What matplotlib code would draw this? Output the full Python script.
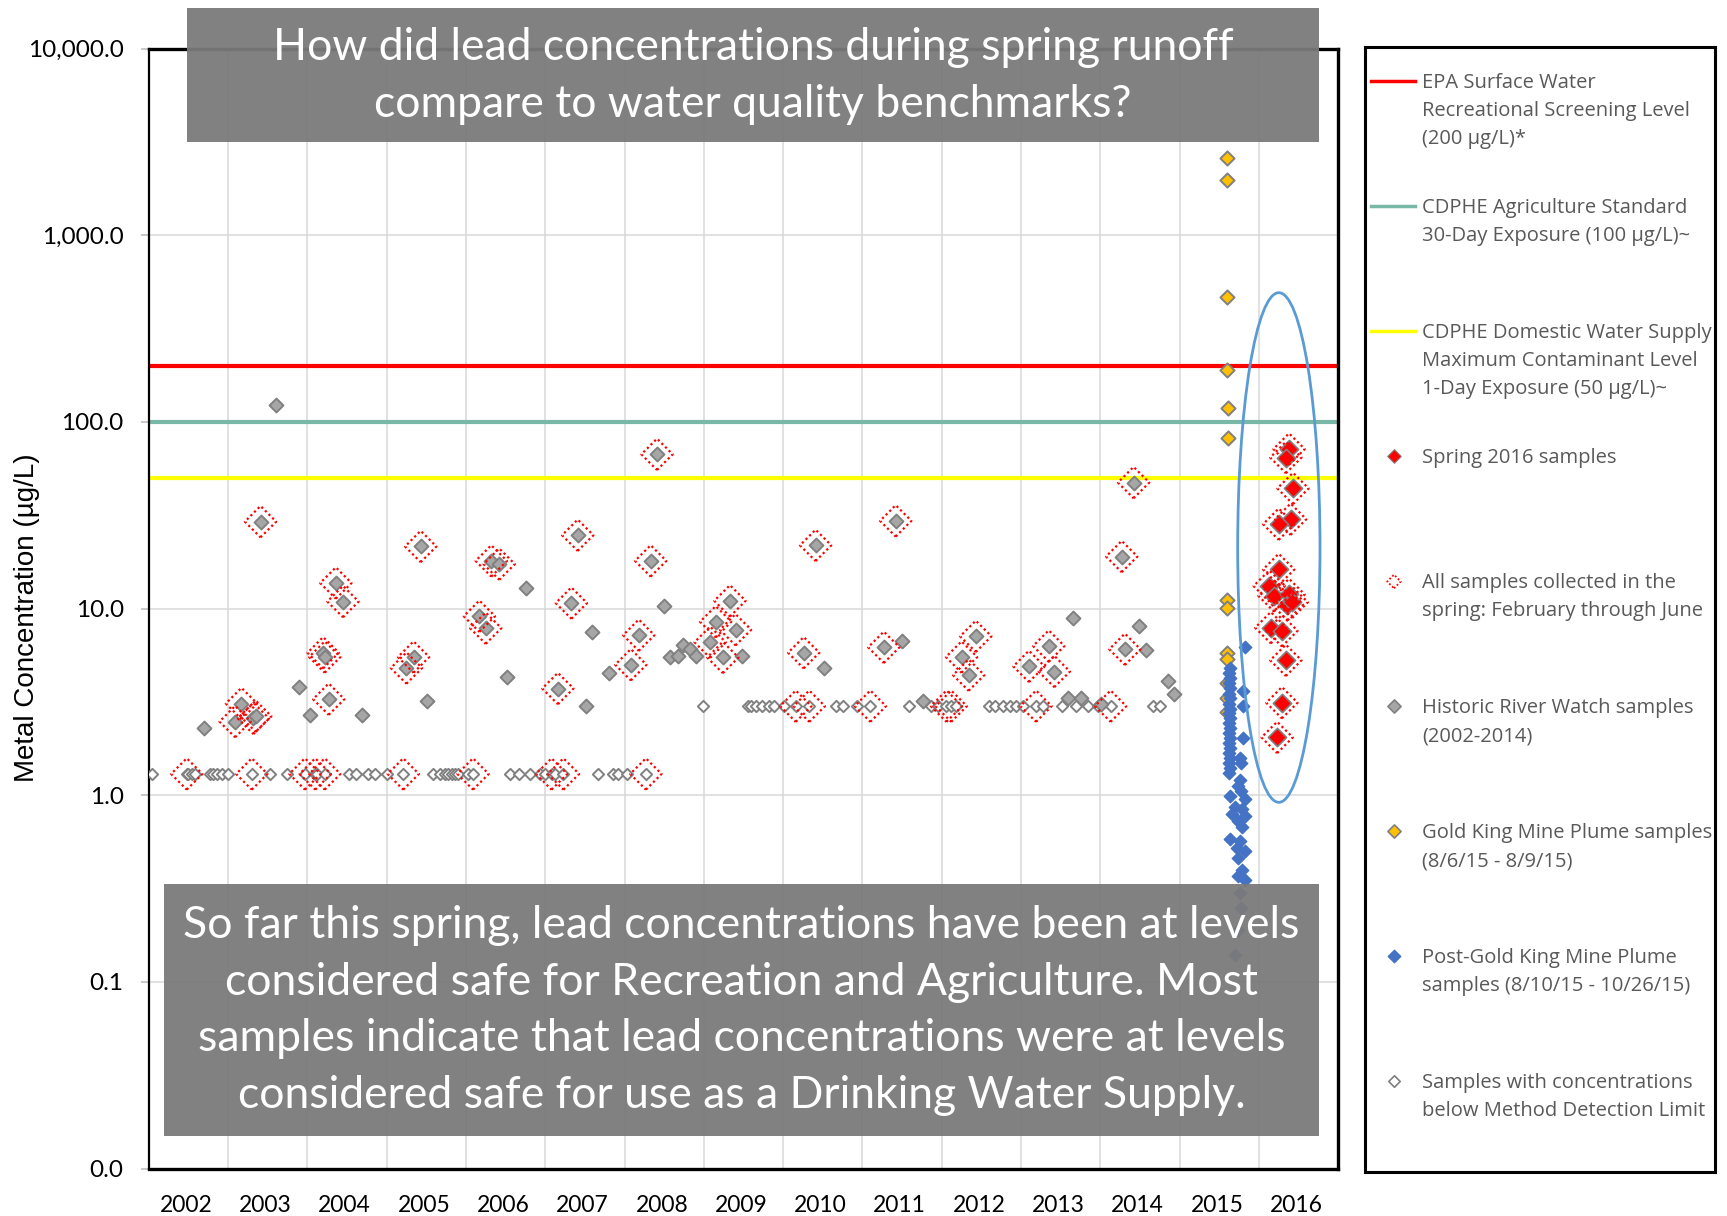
import matplotlib
matplotlib.use("Agg")
import matplotlib.pyplot as plt
from matplotlib.patches import Rectangle, Ellipse
from matplotlib.lines import Line2D

# ---- data (decimal year, lead in ug/L) ----
hist_date = [2002.70, 2003.09, 2003.17, 2003.32, 2003.35, 2003.41, 2003.605, 2003.89, 2004.03,
             2004.20, 2004.22, 2004.27, 2004.36, 2004.45, 2004.69, 2005.25, 2005.34, 2005.43,
             2005.51, 2006.17, 2006.25, 2006.32, 2006.42, 2006.52, 2006.76, 2007.16, 2007.33,
             2007.41, 2007.51, 2007.59, 2007.80, 2008.08, 2008.18, 2008.33, 2008.41, 2008.50,
             2008.57, 2008.68, 2008.74, 2008.83, 2008.90, 2009.08, 2009.15, 2009.24, 2009.33,
             2009.40, 2009.48, 2010.26, 2010.41, 2010.51, 2011.27, 2011.42, 2011.50, 2011.76,
             2012.25, 2012.34, 2012.43, 2013.10, 2013.35, 2013.42, 2013.59, 2013.66, 2013.76,
             2014.01, 2014.27, 2014.31, 2014.42, 2014.49, 2014.57, 2014.86, 2014.93]
hist_val = [2.3, 2.48, 3.1, 2.58, 2.65, 29.2, 123, 3.8, 2.69,
            5.8, 5.5, 3.27, 13.7, 10.9, 2.69, 4.8, 5.5, 21.5,
            3.2, 9.1, 7.85, 18.0, 17.3, 4.3, 12.9, 3.73, 10.7,
            24.7, 2.99, 7.5, 4.5, 5.0, 7.2, 18.0, 67, 10.3,
            5.5, 5.6, 6.4, 6.1, 5.6, 6.6, 8.5, 5.47, 11.0,
            7.7, 5.55, 5.8, 21.8, 4.8, 6.2, 29.5, 6.7, 3.2,
            5.5, 4.4, 7.1, 4.9, 6.3, 4.6, 3.3, 8.9, 3.3,
            3.1, 19.0, 6.05, 47.3, 8.1, 6.0, 4.1, 3.5]
hist_spring = [0, 1, 1, 1, 1, 1, 0, 0, 0,
               1, 1, 1, 1, 1, 0, 1, 1, 1,
               0, 1, 1, 1, 1, 0, 0, 1, 1,
               1, 0, 0, 0, 1, 1, 1, 1, 0,
               0, 0, 0, 0, 0, 1, 1, 1, 1,
               1, 0, 1, 1, 0, 1, 1, 0, 0,
               1, 1, 1, 1, 1, 1, 0, 0, 0,
               0, 1, 1, 1, 0, 0, 0, 0]

# below method detection limit
mdl_date = [2002.04, 2002.48, 2002.50, 2002.54, 2002.58, 2002.77, 2002.81, 2002.86, 2002.92,
            2003.00, 2003.30, 2003.53, 2003.74, 2003.97, 2004.10, 2004.12, 2004.22, 2004.52,
            2004.62, 2004.77, 2004.85, 2005.00, 2005.21, 2005.59, 2005.67, 2005.74, 2005.78,
            2005.82, 2005.86, 2005.90, 2006.03, 2006.09, 2006.56, 2006.67, 2006.81, 2006.93,
            2007.00, 2007.08, 2007.12, 2007.23, 2007.66, 2007.85, 2007.92, 2008.03, 2008.27,
            2008.99, 2009.56, 2009.60, 2009.66, 2009.74, 2009.82, 2009.89, 2010.01, 2010.16,
            2010.33, 2010.67, 2010.75, 2010.93, 2011.10, 2011.59, 2011.87, 2011.95, 2012.06,
            2012.12, 2012.18, 2012.60, 2012.67, 2012.77, 2012.86, 2012.94, 2013.03, 2013.19,
            2013.28, 2013.52, 2013.69, 2013.85, 2013.97, 2014.13, 2014.67, 2014.75]
mdl_val = [1.3] * 45 + [3.0] * 35
mdl_spring = [0, 1, 0, 0, 0, 0, 0, 0, 0,
              0, 1, 0, 0, 1, 1, 0, 1, 0,
              0, 0, 0, 0, 1, 0, 0, 0, 0,
              0, 0, 0, 0, 1, 0, 0, 0, 0,
              0, 1, 0, 1, 0, 0, 0, 0, 1,
              0, 0, 0, 0, 0, 0, 0, 0, 1,
              1, 0, 0, 0, 1, 0, 0, 0, 1,
              1, 0, 0, 0, 0, 0, 0, 0, 1,
              0, 0, 0, 0, 0, 1, 0, 0]

# Gold King Mine plume 8/6/15 - 8/9/15
gk_date = [2015.60, 2015.60, 2015.60, 2015.60, 2015.61, 2015.61, 2015.60, 2015.60,
           2015.60, 2015.60, 2015.60, 2015.60, 2015.60]
gk_val = [2594, 1971, 468, 190, 118, 82, 11.1, 10.1, 5.8, 5.4, 4.0, 3.3, 2.8]

# post plume 8/10/15 - 10/26/15
post_date = [2015.63, 2015.62, 2015.63, 2015.62, 2015.63, 2015.62, 2015.63, 2015.62,
             2015.63, 2015.62, 2015.63, 2015.62, 2015.63, 2015.62, 2015.63, 2015.62,
             2015.63, 2015.62, 2015.63, 2015.62, 2015.63, 2015.62, 2015.63,
             2015.76, 2015.74, 2015.78, 2015.82, 2015.70, 2015.79, 2015.66, 2015.82,
             2015.74, 2015.79, 2015.63, 2015.76, 2015.72, 2015.82, 2015.74, 2015.79,
             2015.74, 2015.82, 2015.76, 2015.77, 2015.74, 2015.70,
             2015.82, 2015.80, 2015.80, 2015.80, 2015.76, 2015.77]
post_val = [4.8, 4.5, 4.25, 4.0, 3.75, 3.5, 3.3, 3.1,
            2.9, 2.76, 2.6, 2.44, 2.3, 2.16, 2.03, 1.9,
            1.79, 1.69, 1.58, 1.49, 1.4, 1.32, 0.99,
            1.21, 1.12, 1.05, 0.95, 0.87, 0.84, 0.79, 0.77,
            0.73, 0.68, 0.58, 0.57, 0.52, 0.50, 0.46, 0.40,
            0.37, 0.35, 0.30, 0.25, 0.19, 0.14,
            6.2, 3.6, 3.0, 2.03, 1.58, 1.48]

# spring 2016
s16_date = [2016.38, 2016.34, 2016.43, 2016.40, 2016.25, 2016.25, 2016.13, 2016.19,
            2016.38, 2016.36, 2016.42, 2016.15, 2016.29, 2016.34, 2016.29, 2016.23]
s16_val = [71.5, 64.4, 44, 30.1, 28.3, 16.2, 13.2, 11.7,
           11.9, 10.5, 10.8, 7.9, 7.6, 5.28, 3.13, 2.04]

bench_val = [200, 100, 50]
bench_color = ["#FF0000", "#79B8A6", "#FFFF00"]

years = list(range(2002, 2017))
ytick_val = [0.01, 0.1, 1, 10, 100, 1000, 10000]
ytick_lab = ["0.0", "0.1", "1.0", "10.0", "100.0", "1,000.0", "10,000.0"]

legend_labels = [
    ["EPA Surface Water", "Recreational Screening Level", "(200 \u00b5g/L)*"],
    ["CDPHE Agriculture Standard", "30-Day Exposure (100 \u00b5g/L)~"],
    ["CDPHE Domestic Water Supply", "Maximum Contaminant Level", "1-Day Exposure (50 \u00b5g/L)~"],
    ["Spring 2016 samples"],
    ["All samples collected in the", "spring: February through June"],
    ["Historic River Watch samples", "(2002-2014)"],
    ["Gold King Mine Plume samples", "(8/6/15 - 8/9/15)"],
    ["Post-Gold King Mine Plume", "samples (8/10/15 - 10/26/15)"],
    ["Samples with concentrations", "below Method Detection Limit"],
]

top_text = "How did lead concentrations during spring runoff\ncompare to water quality benchmarks?"
bottom_text = ("So far this spring, lead concentrations have been at levels\n"
               "considered safe for Recreation and Agriculture. Most\n"
               "samples indicate that lead concentrations were at levels\n"
               "considered safe for use as a Drinking Water Supply.")

GREY_FACE = "#A6A6A6"
GREY_EDGE = "#808080"
W, H = 1727, 1216

fig = plt.figure(figsize=(W / 100, H / 100), dpi=100)
ax = fig.add_axes([148.7 / W, 1 - 1168.6 / H, 1189.5 / W, 1120.1 / H])
ax.set_yscale("log")
ax.set_xlim(2002, 2017)
ax.set_ylim(0.01, 10000)

# grid
ax.set_xticks(years + [2017])
ax.set_xticklabels([])
ax.set_xticks([y + 0.47 for y in years], minor=True)
ax.set_xticklabels([str(y) for y in years], minor=True, fontfamily="Lato", fontsize=16.5)
ax.tick_params(axis="x", which="both", length=0)
ax.tick_params(axis="x", which="minor", pad=19)
ax.set_yticks(ytick_val)
ax.set_yticklabels(ytick_lab, fontfamily="Lato", fontsize=17.5)
ax.yaxis.set_minor_locator(matplotlib.ticker.NullLocator())
ax.tick_params(axis="y", length=6, color="#BFBFBF", width=1.2, pad=12)
ax.grid(True, which="major", color="#D9D9D9", linewidth=1.1)
ax.set_axisbelow(True)

for s in ["top", "right", "bottom"]:
    ax.spines[s].set_linewidth(2.4)
ax.spines["left"].set_linewidth(1.6)

ax.set_ylabel("Metal Concentration (\u00b5g/L)", fontfamily="Liberation Sans", fontsize=20)
ax.yaxis.set_label_coords(-0.091, 0.4916)

# benchmark lines
for v, c in zip(bench_val, bench_color):
    ax.axhline(v, color=c, linewidth=3, zorder=2)

# historic samples
ax.scatter(mdl_date, mdl_val, marker="D", s=33, facecolors="white", edgecolors=GREY_EDGE,
           linewidths=1.4, zorder=3)
ax.scatter(hist_date, hist_val, marker="D", s=50, facecolors=GREY_FACE, edgecolors=GREY_EDGE,
           linewidths=1.4, zorder=3)
ax.scatter(gk_date, gk_val, marker="D", s=52, facecolors="#FFC000", edgecolors=GREY_EDGE,
           linewidths=1.4, zorder=4)
ax.scatter(post_date, post_val, marker="D", s=40, facecolors="#4472C4", edgecolors="#4472C4",
           linewidths=1, zorder=5)
ax.scatter(s16_date, s16_val, marker="D", s=86, facecolors="#FF0000", edgecolors=GREY_EDGE,
           linewidths=1.2, zorder=6)

# spring outlines
sp_x = [d for d, f in zip(hist_date, hist_spring) if f]
sp_y = [v for v, f in zip(hist_val, hist_spring) if f]
sp_x += [d for d, f in zip(mdl_date, mdl_spring) if f]
sp_y += [v for v, f in zip(mdl_val, mdl_spring) if f]
sp_x += s16_date
sp_y += s16_val
ax.scatter(sp_x, sp_y, marker="D", s=255, facecolors="none", edgecolors="#FF0000",
           linewidths=1.6, linestyles=(0, (1, 1.3)), zorder=7)

# ellipse around spring 2016
ax.add_patch(Ellipse((0.9501, 0.5545), 0.0692, 0.455, transform=ax.transAxes,
                     fill=False, edgecolor="#5B9BD5", linewidth=2, zorder=8))

# text boxes
fig.add_artist(Rectangle((187 / W, 1 - 142 / H), 1132 / W, 134.3 / H, transform=fig.transFigure,
                         facecolor="#7A7A7A", alpha=0.95, edgecolor="none", zorder=5))
fig.text(753 / W, 1 - 76 / H, top_text, ha="center", va="center", color="white",
         fontfamily="Lato", fontsize=32, linespacing=1.48, zorder=6)
fig.add_artist(Rectangle((164 / W, 1 - 1135.5 / H), 1155 / W, 251.5 / H, transform=fig.transFigure,
                         facecolor="#7A7A7A", alpha=0.95, edgecolor="none", zorder=5))
fig.text(741.5 / W, 1 - 1010.5 / H, bottom_text, ha="center", va="center", color="white",
         fontfamily="Lato", fontsize=32, linespacing=1.48, zorder=6)

# legend panel
lx0, lx1, ly0, ly1 = 1364.6, 1714.9, 47, 1172
lax = fig.add_axes([lx0 / W, 1 - ly1 / H, (lx1 - lx0) / W, (ly1 - ly0) / H])
lax.set_xlim(lx0, lx1)
lax.set_ylim(ly1, ly0)
lax.set_xticks([])
lax.set_yticks([])
for s in lax.spines.values():
    s.set_linewidth(2.2)

for i, lines in enumerate(legend_labels):
    y0 = 83.5 + 125.0 * i
    for j, t in enumerate(lines):
        lax.text(1422, y0 + 28 * j, t, ha="left", va="center", color="#595959",
                 fontfamily="Open Sans", fontsize=14.5)

for i, c in enumerate(bench_color):
    lax.add_line(Line2D([1371, 1415], [81.5 + 125.0 * i] * 2, color=c, linewidth=2.5))

my = [81.5 + 125.0 * i for i in range(3, 9)]
lax.scatter([1394], [my[0]], marker="D", s=48, facecolors="#FF0000", edgecolors=GREY_EDGE, linewidths=0.8)
lax.scatter([1394], [my[1]], marker="D", s=48, facecolors="none", edgecolors="#FF0000",
            linewidths=1.3, linestyles=(0, (1, 1.2)))
lax.scatter([1394], [my[2]], marker="D", s=45, facecolors=GREY_FACE, edgecolors=GREY_EDGE, linewidths=1.2)
lax.scatter([1394], [my[3]], marker="D", s=45, facecolors="#FFC000", edgecolors=GREY_EDGE, linewidths=1.2)
lax.scatter([1394], [my[4]], marker="D", s=40, facecolors="#4472C4", edgecolors="#4472C4", linewidths=1)
lax.scatter([1394], [my[5]], marker="D", s=34, facecolors="white", edgecolors=GREY_EDGE, linewidths=1.2)

fig.savefig("out.png", dpi=100)
